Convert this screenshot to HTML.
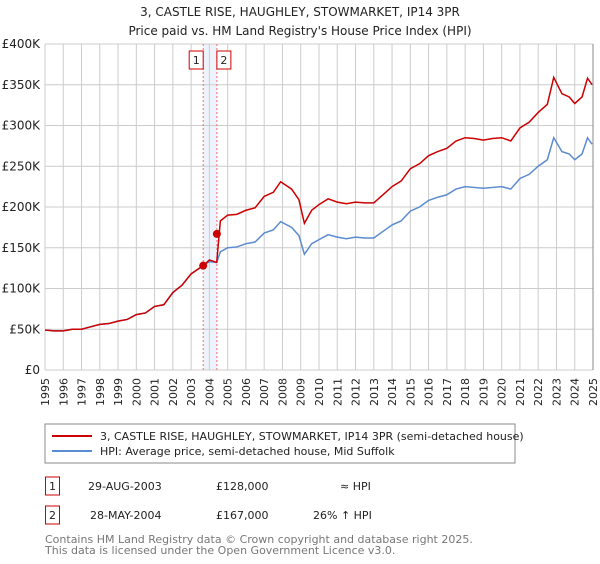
<!DOCTYPE html>
<html><head><meta charset="utf-8"><style>
body{margin:0;background:#fff;font-family:"DejaVu Sans","Liberation Sans",sans-serif;}
svg text{font-family:"DejaVu Sans","Liberation Sans",sans-serif;}
</style></head><body>
<svg id="c" width="600" height="560" xmlns="http://www.w3.org/2000/svg">
<text x="300" y="16" text-anchor="middle" font-size="12" fill="#222">3, CASTLE RISE, HAUGHLEY, STOWMARKET, IP14 3PR</text>
<text x="300" y="35" text-anchor="middle" font-size="12" fill="#222">Price paid vs. HM Land Registry's House Price Index (HPI)</text>
<g id="grid"></g><g id="marks"></g><g id="axes"></g>
<rect x="45" y="424" width="470" height="39" fill="#fff" stroke="#888"/>
<line x1="52" y1="436" x2="92" y2="436" stroke="#cc0000" stroke-width="2"/>
<text x="100" y="440" font-size="11" fill="#222">3, CASTLE RISE, HAUGHLEY, STOWMARKET, IP14 3PR (semi-detached house)</text>
<line x1="52" y1="451" x2="92" y2="451" stroke="#5b8bd0" stroke-width="2"/>
<text x="100" y="455" font-size="11" fill="#222">HPI: Average price, semi-detached house, Mid Suffolk</text>
<g font-size="11" fill="#222">
<rect x="45.5" y="477" width="14" height="18" fill="none" stroke="#cc0000"/>
<text x="52.5" y="490" text-anchor="middle">1</text>
<text x="88" y="490">29-AUG-2003</text>
<text x="216" y="490">£128,000</text>
<text x="340" y="490">≈ HPI</text>
<rect x="45.5" y="506" width="14" height="18" fill="none" stroke="#cc0000"/>
<text x="52.5" y="519" text-anchor="middle">2</text>
<text x="90" y="519">28-MAY-2004</text>
<text x="216" y="519">£167,000</text>
<text x="313" y="519">26% ↑ HPI</text>
</g>
<text x="45" y="543" font-size="11" fill="#777">Contains HM Land Registry data © Crown copyright and database right 2025.</text>
<text x="45" y="554" font-size="11" fill="#777">This data is licensed under the Open Government Licence v3.0.</text>
</svg>
<script>
const years=[1995,1995.5,1996,1996.5,1997,1997.5,1998,1998.5,1999,1999.5,2000,2000.5,2001,2001.5,2002,2002.5,2003,2003.66,2004,2004.4,2004.6,2005,2005.5,2006,2006.5,2007,2007.5,2007.9,2008.5,2008.9,2009.2,2009.6,2010,2010.5,2011,2011.5,2012,2012.5,2013,2013.5,2014,2014.5,2015,2015.5,2016,2016.5,2017,2017.5,2018,2018.5,2019,2019.5,2020,2020.5,2021,2021.5,2022,2022.5,2022.85,2023.3,2023.7,2024,2024.4,2024.7,2024.95];
const hpi=[49,48,48,50,50,53,56,57,60,62,68,70,78,80,95,104,118,128,133,132,145,150,151,155,157,168,172,182,175,165,142,155,160,166,163,161,163,162,162,170,178,183,195,200,208,212,215,222,225,224,223,224,225,222,235,240,250,258,285,268,265,258,265,285,277];
const price=[49,48,48,50,50,53,56,57,60,62,68,70,78,80,95,104,118,128,135,132,183,190,191,196,199,213,218,231,222,209,180,196,203,210,206,204,206,205,205,215,225,232,247,253,263,268,272,281,285,284,282,284,285,281,297,304,316,326,359,339,335,327,335,358,350];
const sales=[[2003.66,128],[2004.41,167]];
const yTicks=[0,50,100,150,200,250,300,350,400];
const xTicks=[1995,1996,1997,1998,1999,2000,2001,2002,2003,2004,2005,2006,2007,2008,2009,2010,2011,2012,2013,2014,2015,2016,2017,2018,2019,2020,2021,2022,2023,2024,2025];
const NS='http://www.w3.org/2000/svg';
const X=y=>45+(y-1995)*(548/30), Y=v=>370-v*(326/400);
function mk(t,a,p){const e=document.createElementNS(NS,t);for(const k in a)e.setAttribute(k,a[k]);p.appendChild(e);return e;}
const g=document.getElementById('grid'),m=document.getElementById('marks'),ax=document.getElementById('axes');
mk('rect',{x:X(2003.66),y:44,width:X(2004.41)-X(2003.66),height:326,fill:'#eef2fb'},g);
yTicks.forEach(v=>{const l=mk('line',{x1:45,x2:593,y1:Y(v),y2:Y(v),stroke:'#ccc'},g);

const t=mk('text',{x:40,y:Y(v)+4,'text-anchor':'end','font-size':12,fill:'#222'},ax);t.textContent=v==0?'£0':'£'+v+'K';
});
xTicks.forEach(v=>{const l=mk('line',{x1:X(v),x2:X(v),y1:44,y2:370,stroke:'#ccc'},g);

const t=mk('text',{x:0,y:0,'text-anchor':'end','font-size':11,fill:'#222',transform:`translate(${X(v)+4},378) rotate(-90)`},ax);t.textContent=v;
});
sales.forEach(s=>{const l=mk('line',{x1:X(s[0]),x2:X(s[0]),y1:44,y2:370,stroke:'#f07070','stroke-dasharray':'2,2'},g);
});
const pb=mk('path',{d:years.map((y,i)=>(i?'L':'M')+X(y)+','+Y(hpi[i])).join(''),fill:'none',stroke:'#5b8bd0','stroke-width':1.5},m);

const pr=mk('path',{d:years.map((y,i)=>(i?'L':'M')+X(y)+','+Y(price[i])).join(''),fill:'none',stroke:'#cc0000','stroke-width':1.5},m);

sales.forEach((s,i)=>{const c=mk('circle',{cx:X(s[0]),cy:Y(s[1]),r:4,fill:'#cc0000'},m);

const r=mk('rect',{x:X(s[0])-(i?0:14),y:51,width:14,height:18,fill:'#fff',stroke:'#cc0000'},m);

const t=mk('text',{x:X(s[0])+(i?7:-7),y:64,'text-anchor':'middle','font-size':11,fill:'#222'},m);t.textContent=i+1;
});
const b=mk('line',{x1:593,x2:593,y1:44,y2:370,stroke:'#888'},ax);

</script>
</body></html>
